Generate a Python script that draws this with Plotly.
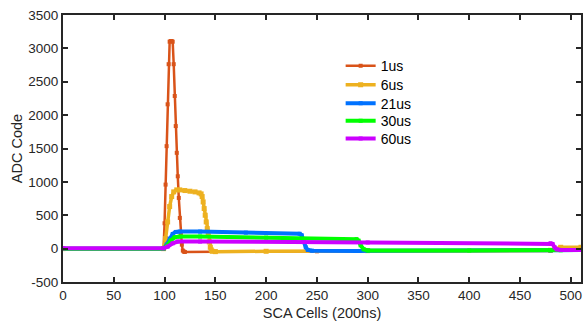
import plotly.graph_objects as go

# ---- data (cell index, ADC code) ----
x_1us = [0, 99, 100, 101, 102, 103, 104, 105, 106, 107, 108, 109, 110, 111, 112,
         113, 114, 115, 116, 117, 118, 119, 120, 150, 250, 480, 490, 510]
y_1us = [0, 0, 380, 959, 1535, 2162, 2763, 3100, 3110, 3110, 3100, 2763, 2287, 1836, 1435,
         1084, 760, 460, 220, 60, -30, -45, -50, -45, -40, -35, 15, 15]

x_6us = [0, 99, 101, 103, 105, 107, 109, 112, 115, 120, 125, 130, 134, 136, 137, 138,
         139, 140, 141, 142, 143, 144, 145, 146, 147, 150, 200, 300, 480, 490, 510]
y_6us = [0, 0, 150, 400, 630, 780, 850, 880, 880, 870, 860, 850, 835, 820, 780, 700,
         600, 500, 400, 300, 200, 100, 20, -20, -40, -45, -40, -30, -25, 20, 20]

x_21us = [0, 99, 102, 105, 108, 111, 115, 135, 180, 233, 235, 237, 239, 241, 245, 292, 300, 480, 510]
y_21us = [0, 0, 60, 150, 220, 250, 255, 255, 240, 222, 200, 100, 20, -20, -30, -35, -30, -25, -20]

x_30us = [0, 99, 102, 106, 110, 115, 135, 200, 289, 291, 293, 296, 300, 400, 480, 490, 510]
y_30us = [0, 0, 40, 120, 170, 180, 181, 165, 142, 120, 50, -10, -28, -28, -25, -25, -20]

x_60us = [0, 99, 103, 108, 113, 135, 300, 480, 482, 484, 486, 490, 510]
y_60us = [5, 5, 30, 80, 105, 106, 92, 81, 70, 20, -10, -20, -20]

names = ["1us", "6us", "21us", "30us", "60us"]
colors = ["#D95319", "#EDB120", "#0072FF", "#00FF00", "#CC00FF"]

series = [(x_1us, y_1us), (x_6us, y_6us), (x_21us, y_21us), (x_30us, y_30us), (x_60us, y_60us)]
widths = [2.5, 3.5, 4, 4, 4]
msizes = [4, 5, 4, 4, 4]

xticks = list(range(0, 501, 50))
yticks = list(range(-500, 3501, 500))

FONT = "Liberation Sans, Arial"
legend_ids = ["legend", "legend2", "legend3", "legend4", "legend5"]
legend_y = [0.808, 0.737, 0.668, 0.602, 0.536]   # entry centres, paper fraction

fig = go.Figure()
for (xs, ys), n, c, w, m, lid in zip(series, names, colors, widths, msizes, legend_ids):
    fig.add_trace(go.Scatter(x=xs, y=ys, name=n, mode="lines+markers", legend=lid,
                             line=dict(color=c, width=w),
                             marker=dict(color=c, size=m, symbol="square")))

axis_common = dict(showline=True, linecolor="#262626", linewidth=2, mirror="allticks",
                   ticks="inside", ticklen=5, tickwidth=2, tickcolor="#262626",
                   showgrid=False, zeroline=False,
                   tickfont=dict(family=FONT, size=13.5, color="#262626"))

fig.update_xaxes(range=[0, 510], tickvals=xticks, ticktext=[str(v) for v in xticks],
                 title=dict(text="SCA Cells (200ns)", standoff=6,
                            font=dict(family=FONT, size=14.5, color="#262626")),
                 **axis_common)
fig.update_yaxes(range=[-500, 3500], tickvals=yticks, ticktext=[str(v) for v in yticks],
                 title=dict(text="ADC Code", standoff=2,
                            font=dict(family=FONT, size=14.5, color="#262626")),
                 **axis_common)

legend_style = dict(x=0.536, xanchor="left", yanchor="middle",
                    bgcolor="rgba(0,0,0,0)", borderwidth=0, itemwidth=30,
                    font=dict(family=FONT, size=14, color="#000000"))

layout_legends = {lid: dict(y=ly, **legend_style) for lid, ly in zip(legend_ids, legend_y)}

fig.update_layout(
    width=585, height=323,
    margin=dict(l=63, r=2, t=15, b=41),
    plot_bgcolor="white", paper_bgcolor="white",
    showlegend=True,
    **layout_legends,
)

fig.write_html("out.html")
